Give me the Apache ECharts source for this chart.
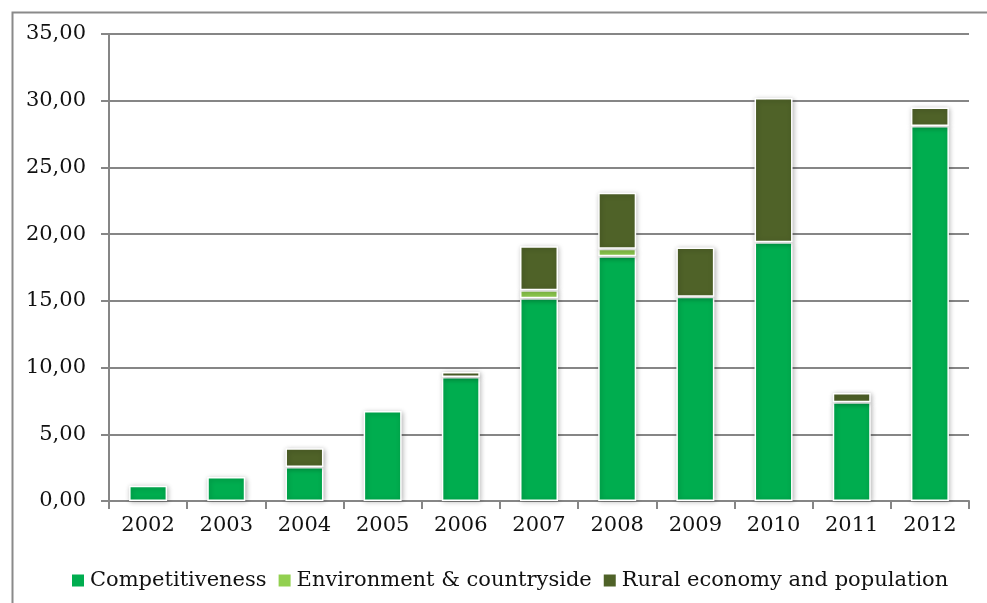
<!DOCTYPE html>
<html>
<head>
<meta charset="utf-8">
<script src="https://cdn.jsdelivr.net/npm/echarts@6/dist/echarts.min.js"></script>
<style>html,body{margin:0;padding:0;background:#fff}#c{width:987px;height:603px}</style>
</head>
<body>
<div id="c"></div>
<script>
const years = ['2002','2003','2004','2005','2006','2007','2008','2009','2010','2011','2012'];
const competitiveness = [1.15, 1.8, 2.55, 6.75, 9.3, 15.2, 18.35, 15.3, 19.4, 7.4, 28.1];
const environment = [0, 0, 0, 0, 0, 0.6, 0.55, 0, 0, 0, 0];
const rural = [0, 0, 1.4, 0, 0.37, 3.3, 4.2, 3.7, 10.8, 0.7, 1.4];
const seriesNames = ['Competitiveness', 'Environment & countryside', 'Rural economy and population'];
const colors = ['#00AD4F', '#92D050', '#4F6228'];

const font = 'DejaVu Serif';
const chart = echarts.init(document.getElementById('c'), null, {renderer: 'canvas'});
const barStyle = (c) => ({
  color: c, borderColor: '#ffffff', borderWidth: 1.5,
  shadowBlur: 5, shadowColor: 'rgba(0,0,0,0.28)', shadowOffsetX: 1, shadowOffsetY: 1
});
const mk = (name, data, c) => ({
  name, type: 'bar', stack: 'a', data: data.map(v => v === 0 ? null : v),
  barWidth: 38, itemStyle: barStyle(c), emphasis: {disabled: true}
});
chart.setOption({
  animation: false,
  backgroundColor: '#fff',
  graphic: [{
    type: 'rect', left: 10, top: 10, shape: {x: 0, y: 0, width: 1000, height: 700},
    style: {fill: 'none', stroke: '#8a8a8a', lineWidth: 2}, silent: true, z: -1
  }],
  grid: {left: 109, right: 18, top: 34, bottom: 102},
  legend: {
    left: 65, top: 565, itemWidth: 14, itemHeight: 14, itemGap: 10,
    icon: 'rect',
    textStyle: {fontFamily: font, fontSize: 21, color: '#111'},
    data: seriesNames
  },
  xAxis: {
    type: 'category', data: years,
    axisLine: {lineStyle: {color: '#868686', width: 2}},
    axisTick: {show: true, length: 8, lineStyle: {color: '#868686', width: 2}},
    axisLabel: {fontFamily: font, fontSize: 21, color: '#111', margin: 14}
  },
  yAxis: {
    type: 'value', min: 0, max: 35, interval: 5,
    axisLine: {show: true, lineStyle: {color: '#868686', width: 2}},
    axisTick: {show: true, length: 8, lineStyle: {color: '#868686', width: 2}},
    splitLine: {lineStyle: {color: '#868686', width: 2}},
    axisLabel: {fontFamily: font, fontSize: 21, color: '#111', margin: 23,
      formatter: v => v.toFixed(2).replace('.', ',')}
  },
  series: [
    mk(seriesNames[0], competitiveness, colors[0]),
    mk(seriesNames[1], environment, colors[1]),
    mk(seriesNames[2], rural, colors[2])
  ]
});
</script>
</body>
</html>
